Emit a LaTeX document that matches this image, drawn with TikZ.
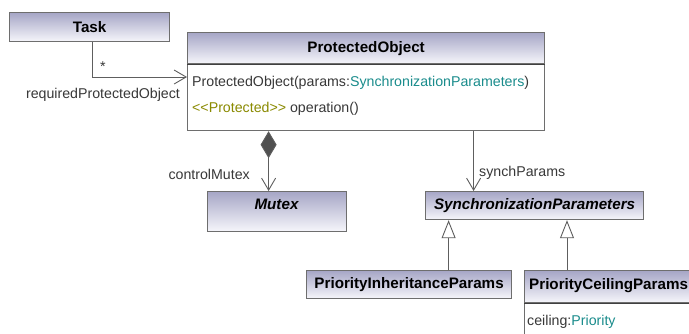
\documentclass[tikz,border=0pt]{standalone}
\usepackage{fontspec}
\setmainfont{Liberation Sans}
\usetikzlibrary{arrows.meta,calc}
\definecolor{hdrtop}{HTML}{A6A6C6}
\definecolor{hdrbot}{HTML}{F6F6FB}
\definecolor{edge}{HTML}{6E6E6E}
\definecolor{sepline}{HTML}{404040}
\definecolor{ink}{HTML}{383838}
\definecolor{stereo}{HTML}{8A8A00}
\definecolor{typeteal}{HTML}{1A8C8C}
\definecolor{diamondfill}{HTML}{505050}
\definecolor{connline}{HTML}{5E5E5E}
\begin{document}
\begin{tikzpicture}[x=1pt,y=-1pt,
  hdr/.style={draw=edge, line width=1.2pt, top color=hdrtop, bottom color=hdrbot,
    anchor=north west, inner sep=0pt},
  body/.style={draw=edge, line width=1.2pt, fill=white, anchor=north west, inner sep=0pt},
  conn/.style={draw=connline, line width=0.9pt},
  lbl/.style={font=\fontsize{14.2}{16}\selectfont, text=ink, inner sep=0pt},
  title/.style={font=\fontsize{15.2}{17}\selectfont\bfseries, text=black, inner sep=0pt},
  ititle/.style={title, font=\fontsize{15.2}{17}\selectfont\bfseries\itshape},
  barb/.tip={Straight Barb[length=12pt,width=14pt]},
  gentip/.tip={Triangle[open,length=18pt,width=14pt,fill=white]},
  comptip/.tip={Diamond[length=27pt,width=16pt,fill=diamondfill]}]
\path[use as bounding box, clip] (0,0) rectangle (689,333);
\fill[white] (0,0) rectangle (689,333);

% classes
\node[hdr, minimum width=160pt, minimum height=29pt] (task) at (9,12) {};
\node[title] (tasktitle) at (task.center) {Task};

\node[body, minimum width=357pt, minimum height=67pt] (pobody) at (187,63) {};
\node[hdr, minimum width=357pt, minimum height=31pt] (pohead) at (187,32) {};
\draw[sepline, line width=1.2pt] (pohead.south west) -- (pohead.south east);
\node[title] (potitle) at (pohead.center) {ProtectedObject};
\node[lbl, anchor=west] (poctor) at (192,83)
  {ProtectedObject(params:\textcolor{typeteal}{SynchronizationParameters})};
\node[lbl, anchor=west] (poop) at (192,109)
  {\textcolor{stereo}{<{}<Protected>{}>} operation()};

\node[hdr, minimum width=139pt, minimum height=40pt] (mutex) at (207,191) {};
\node[ititle] (mutextitle) at (276.5,204) {Mutex};

\node[hdr, minimum width=218pt, minimum height=28pt] (sync) at (425,191) {};
\node[ititle] (synctitle) at (sync.center) {SynchronizationParameters};

\node[hdr, minimum width=205pt, minimum height=28pt] (pip) at (306,270) {};
\node[title] (piptitle) at (pip.center) {PriorityInheritanceParams};

\node[body, minimum width=190pt, minimum height=50pt] (pcpbody) at (524,302) {};
\node[hdr, minimum width=190pt, minimum height=32pt] (pcphead) at (524,270) {};
\draw[sepline, line width=1.2pt] (pcphead.south west) -- (pcphead.south east);
\node[title, anchor=west] (pcptitle) at (529,286) {PriorityCeilingParams};
\node[lbl, anchor=west] (pcpattr) at (527,322) {ceiling:\textcolor{typeteal}{Priority}};

% associations
\coordinate (tk) at ([xshift=3pt]task.south);
\draw[conn, -barb] (tk) |- ([yshift=-14pt]pobody.north west);
\node[lbl] (mult) at (103,67) {*};
\node[lbl] (rolepo) at (103,95) {requiredProtectedObject};

\coordinate (mtop) at ([xshift=-8.5pt]mutex.north);
\draw[conn, comptip-barb] (pobody.south -| mtop) -- (mtop);
\node[lbl, anchor=east] (rolemutex) at (250,174) {controlMutex};

\coordinate (stop) at ([xshift=-61pt]sync.north);
\draw[conn, -barb] (pobody.south -| stop) -- (stop);
\node[lbl, anchor=west] (rolesync) at (479,173) {synchParams};

% generalizations
\coordinate (pipt) at ([xshift=39.5pt]pip.north);
\draw[conn, -gentip] (pipt) -- (sync.south -| pipt);
\coordinate (pcpt) at ([xshift=43pt]pcphead.north west);
\draw[conn, -gentip] (pcpt) -- (sync.south -| pcpt);
\end{tikzpicture}
\end{document}
